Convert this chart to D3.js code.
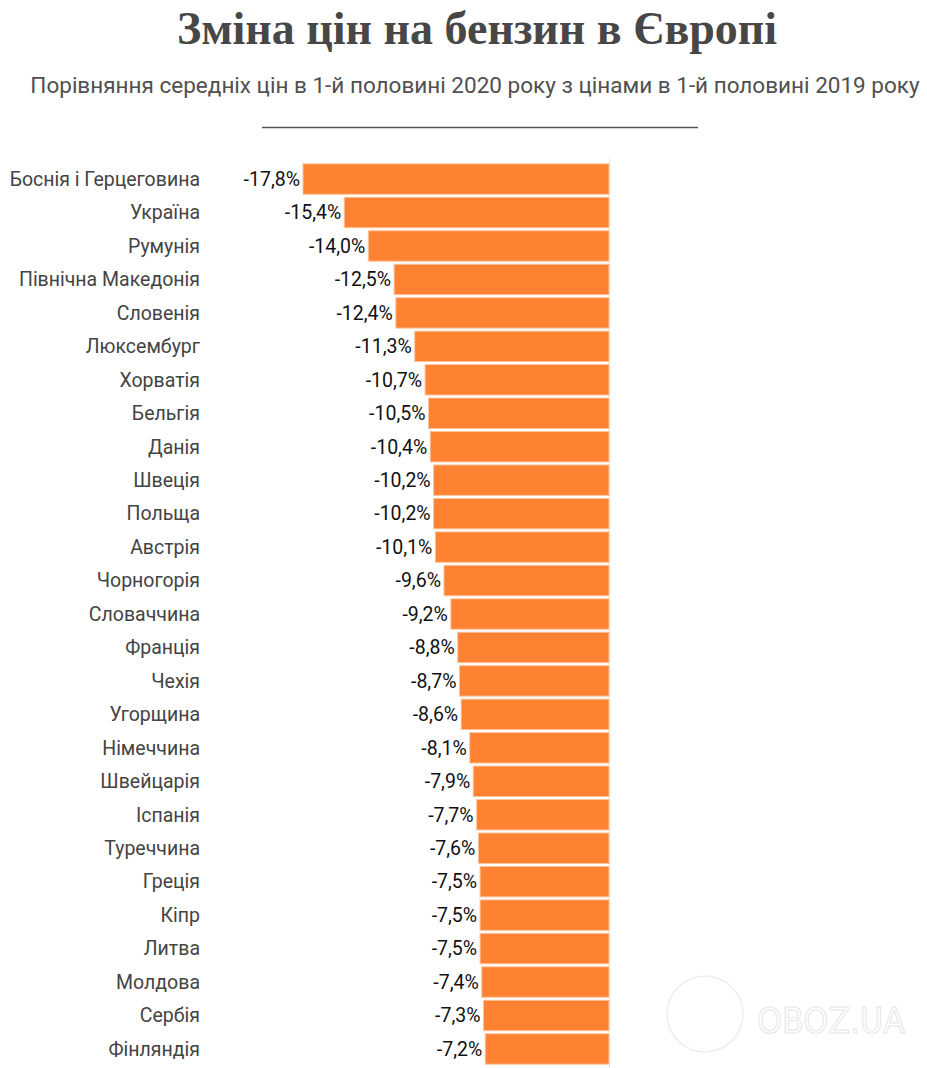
<!DOCTYPE html>
<html>
<head>
<meta charset="utf-8">
<script src="https://cdn.jsdelivr.net/npm/d3@7"></script>
<style>
  body { margin: 0; background: #fff; }
</style>
</head>
<body>
<div id="chart"></div>
<script>
// data
const countries = [
    "Боснія і Герцеговина", "Україна", "Румунія", "Північна Македонія", "Словенія",
    "Люксембург", "Хорватія", "Бельгія", "Данія", "Швеція", "Польща", "Австрія",
    "Чорногорія", "Словаччина", "Франція", "Чехія", "Угорщина", "Німеччина",
    "Швейцарія", "Іспанія", "Туреччина", "Греція", "Кіпр", "Литва", "Молдова",
    "Сербія", "Фінляндія"
];
const changes = [
    -17.8, -15.4, -14.0, -12.5, -12.4, -11.3, -10.7, -10.5, -10.4, -10.2, -10.2, -10.1,
    -9.6, -9.2, -8.8, -8.7, -8.6, -8.1, -7.9, -7.7, -7.6, -7.5, -7.5, -7.5, -7.4,
    -7.3, -7.2
];

const width = 927;
const height = 1068;

const svg = d3.select("#chart").append("svg")
    .attr("width", width)
    .attr("height", height);

// ── Title block ──────────────────────────────────────────────
svg.append("text")
    .attr("x", 477)
    .attr("y", 44)
    .attr("text-anchor", "middle")
    .attr("fill", "#474747")
    .attr("font-family", "'Liberation Serif', 'DejaVu Serif', serif")
    .attr("font-weight", "bold")
    .attr("font-size", "46px")
    .text("Зміна цін на бензин в Європі");

const sub = svg.append("text")
    .attr("x", 475)
    .attr("y", 93)
    .attr("text-anchor", "middle")
    .attr("fill", "#505050")
    .attr("font-family", "Roboto, sans-serif")
    .attr("font-size", "22px")
    .text("Порівняння середніх цін в 1-й половині 2020 року з цінами в 1-й половині 2019 року");
// fit subtitle to the same width as the original (about 890px)
const subW = sub.node().getComputedTextLength();
sub.attr("font-size", (22 * 890 / subW).toFixed(2) + "px");

svg.append("line")
    .attr("x1", 262).attr("x2", 698)
    .attr("y1", 127.5).attr("y2", 127.5)
    .attr("stroke", "#555")
    .attr("stroke-width", 1.5);

// ── Watermark ────────────────────────────────────────────────
const wm = svg.append("g");
wm.append("circle")
    .attr("cx", 705).attr("cy", 1014).attr("r", 38)
    .attr("fill", "none").attr("stroke", "#eeeeee").attr("stroke-width", 1.5);
const wmText = wm.append("text")
    .attr("x", 757).attr("y", 1033)
    .attr("fill", "none").attr("stroke", "#e6e6e6").attr("stroke-width", 1)
    .attr("font-family", "'DejaVu Sans Condensed', 'Roboto', sans-serif")
    .attr("font-size", "46px")
    .text("OBOZ.UA");
const wmW = wmText.node().getComputedTextLength();
wmText.attr("font-size", Math.min(46, 46 * 148 / wmW).toFixed(1) + "px");

// ── Bars ─────────────────────────────────────────────────────
const x = d3.scaleLinear()
    .domain([-17.8, 0])
    .range([303, 609]);

const y = d3.scaleBand()
    .domain(countries)
    .range([162.5, 1065.5])
    .paddingInner(0.09)
    .paddingOuter(0.04);

svg.append("line")
    .attr("x1", x(0) + 0.5).attr("x2", x(0) + 0.5)
    .attr("y1", 158).attr("y2", 1068)
    .attr("stroke", "#e8e8e8");

const rows = svg.append("g")
    .selectAll("g")
    .data(countries.map((c, i) => ({ name: c, value: changes[i] })))
    .join("g");

rows.append("rect")
    .attr("x", d => x(d.value))
    .attr("y", d => y(d.name))
    .attr("width", d => x(0) - x(d.value))
    .attr("height", y.bandwidth())
    .attr("fill", "#ff8232")
    .attr("stroke", "#ffc49c")
    .attr("stroke-width", 1);

rows.append("text")
    .attr("x", 200)
    .attr("y", d => y(d.name) + y.bandwidth() / 2)
    .attr("dy", "0.35em")
    .attr("text-anchor", "end")
    .attr("fill", "#444")
    .attr("font-family", "Roboto, sans-serif")
    .attr("font-size", "19.5px")
    .text(d => d.name);

rows.append("text")
    .attr("x", d => x(d.value) - 3)
    .attr("y", d => y(d.name) + y.bandwidth() / 2)
    .attr("dy", "0.35em")
    .attr("text-anchor", "end")
    .attr("fill", "#111")
    .attr("font-family", "Roboto, sans-serif")
    .attr("font-size", "19.5px")
    .text(d => d3.format(".1f")(d.value).replace(".", ",").replace("−", "-") + "%");
</script>
</body>
</html>
